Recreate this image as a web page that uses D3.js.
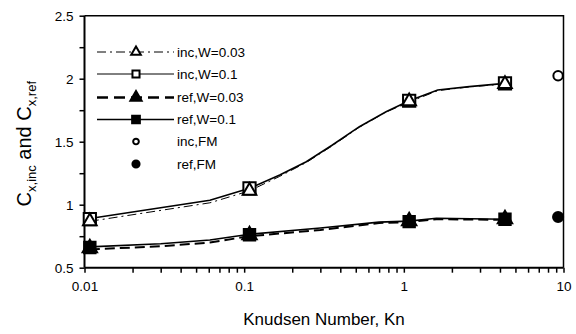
<!DOCTYPE html>
<html>
<head>
<meta charset="utf-8">
<script src="https://cdn.jsdelivr.net/npm/d3@7"></script>
<style>
  body { margin: 0; background: #fff; }
  svg { font-family: "Liberation Sans", Arial, sans-serif; }
</style>
</head>
<body>
<div id="chart"></div>
<script>
// Chart size
var width = 576;
var height = 334;

// Plot area
var plotLeft = 84.5, plotRight = 563.5, plotTop = 15.7, plotBottom = 267.7;

// Curves (Kn, C)
var incW003Kn = [0.0108, 0.061, 0.108, 0.167, 0.245, 0.357, 0.527, 0.774, 1.08, 1.63, 2.57, 4.3];
var incW003C  = [0.868, 1.015, 1.11, 1.225, 1.335, 1.468, 1.615, 1.735, 1.815, 1.905, 1.935, 1.958];
var incW01Kn  = [0.0108, 0.061, 0.108, 0.167, 0.245, 0.357, 0.527, 0.774, 1.08, 1.63, 2.57, 4.3];
var incW01C   = [0.89, 1.035, 1.13, 1.236, 1.341, 1.474, 1.619, 1.738, 1.825, 1.91, 1.937, 1.963];
var refW003Kn = [0.0108, 0.03, 0.061, 0.108, 0.3, 0.7, 1.08, 1.6, 4.3];
var refW003C  = [0.645, 0.67, 0.7, 0.75, 0.8, 0.855, 0.862, 0.885, 0.88];
var refW01Kn  = [0.0108, 0.03, 0.061, 0.108, 0.3, 0.7, 1.08, 1.6, 4.3];
var refW01C   = [0.665, 0.69, 0.72, 0.765, 0.815, 0.862, 0.87, 0.893, 0.885];

// Markers shown on the curves
var markKn = [0.0108, 0.108, 1.08, 4.3];
var incW003Mark = [0.868, 1.11, 1.82, 1.958];
var incW01Mark  = [0.885, 1.13, 1.825, 1.963];
var refW003Mark = [0.655, 0.758, 0.87, 0.885];
var refW01Mark  = [0.66, 0.762, 0.866, 0.885];

// Free molecular limits
var fmKn = 9.25;
var incFM = 2.024;
var refFM = 0.902;

var legendLabels = ["inc,W=0.03", "inc,W=0.1", "ref,W=0.03", "ref,W=0.1", "inc,FM", "ref,FM"];

var xMajor = [0.01, 0.1, 1, 10];
var yMajor = [0.5, 1, 1.5, 2, 2.5];

var svg = d3.select("#chart").append("svg")
  .attr("width", width)
  .attr("height", height);

var x = d3.scaleLog().domain([0.01, 10]).range([plotLeft, plotRight]);
var y = d3.scaleLinear().domain([0.5, 2.5]).range([plotBottom, plotTop]);

// x ticks: 1..9 in each decade
var xTicks = [];
for (var d = 0; d < 3; d++) {
  for (var k = 1; k < 10; k++) xTicks.push(k * Math.pow(10, d - 2));
}
xTicks.push(10);
var yTicks = d3.range(0.5, 2.51, 0.25);

var xAxis = d3.axisBottom(x)
  .tickValues(xTicks)
  .tickSize(5)
  .tickSizeOuter(0)
  .tickFormat(function(v) {
    var m = xMajor.find(function(t) { return Math.abs(t - v) < t * 1e-6; });
    return m === undefined ? "" : String(m);
  });

var gx = svg.append("g")
  .attr("transform", "translate(0," + plotBottom + ")")
  .call(xAxis);
gx.select(".domain").attr("stroke-width", 2).attr("d", "M" + plotLeft + ",0H" + plotRight);
gx.selectAll(".tick line").attr("stroke-width", 1.5);
gx.selectAll(".tick text").attr("font-size", 13.5).attr("dy", "1.15em").attr("fill", "#000");

var yAxis = d3.axisLeft(y)
  .tickValues(yTicks)
  .tickSize(5)
  .tickSizeOuter(0)
  .tickFormat(function(v) {
    return yMajor.indexOf(v) >= 0 ? d3.format("")(v) : "";
  });

var gy = svg.append("g")
  .attr("transform", "translate(" + plotLeft + ",0)")
  .call(yAxis);
gy.select(".domain").attr("stroke-width", 2).attr("d", "M0," + plotTop + "V" + plotBottom);
gy.selectAll(".tick line").attr("stroke-width", 1.5);
gy.selectAll(".tick text").attr("font-size", 13.5).attr("x", -11).attr("fill", "#000");

// frame top and right
svg.append("path")
  .attr("d", "M" + plotLeft + "," + plotTop + "H" + plotRight + "V" + plotBottom)
  .attr("fill", "none")
  .attr("stroke", "#000")
  .attr("stroke-width", 1.5);

// Axis titles
svg.append("text")
  .attr("x", (plotLeft + plotRight) / 2)
  .attr("y", 325)
  .attr("text-anchor", "middle")
  .attr("font-size", 17)
  .text("Knudsen Number, Kn");

var yt = svg.append("text")
  .attr("transform", "translate(31," + ((plotTop + plotBottom) / 2 + 2) + ") rotate(-90)")
  .attr("text-anchor", "middle")
  .attr("font-size", 20);
yt.append("tspan").text("C");
yt.append("tspan").attr("font-size", 13).attr("dy", 5).text("x,inc");
yt.append("tspan").attr("dy", -5).text(" and C");
yt.append("tspan").attr("font-size", 13).attr("dy", 5).text("x,ref");

// Lines
var line = d3.line()
  .x(function(p) { return x(p[0]); })
  .y(function(p) { return y(p[1]); });

function drawLine(kn, c, dash, w) {
  svg.append("path")
    .datum(d3.zip(kn, c))
    .attr("d", line)
    .attr("fill", "none")
    .attr("stroke", "#000")
    .attr("stroke-width", w)
    .attr("stroke-dasharray", dash);
}

drawLine(refW003Kn, refW003C, "10,5", 2);
drawLine(refW01Kn, refW01C, null, 1.6);
drawLine(incW003Kn, incW003C, "9,4,2,4", 1);
drawLine(incW01Kn, incW01C, null, 1.6);

// Marker symbols
function marker(g, type, cx, cy, size, filled) {
  var s;
  if (type === "tri") s = d3.symbol(d3.symbolTriangle, size);
  else if (type === "sq") s = d3.symbol(d3.symbolSquare, size);
  else s = d3.symbol(d3.symbolCircle, size);
  g.append("path")
    .attr("d", s())
    .attr("transform", "translate(" + cx + "," + cy + ")")
    .attr("fill", filled ? "#000" : "#fff")
    .attr("stroke", "#000")
    .attr("stroke-width", 2);
}

function drawMarks(kn, c, type, size, filled) {
  for (var i = 0; i < kn.length; i++) {
    marker(svg, type, x(kn[i]), y(c[i]), size, filled);
  }
}

drawMarks(markKn, refW003Mark, "tri", 90, true);
drawMarks(markKn, refW01Mark, "sq", 130, true);
drawMarks(markKn, incW01Mark, "sq", 150, false);
drawMarks(markKn, incW003Mark, "tri", 80, false);

marker(svg, "circ", x(fmKn), y(incFM), 70, false);
marker(svg, "circ", x(fmKn), y(refFM), 80, true);

// Legend
var legX0 = 97, legX1 = 174, legMark = 136, legText = 177;
var legY = [52, 74, 97.5, 119.5, 141.5, 164];
var legStyle = [
  { dash: "9,4,2,4", w: 1, type: "tri", filled: false, size: 40, line: true },
  { dash: null, w: 1, type: "sq", filled: false, size: 50, line: true },
  { dash: "11,6", w: 2.5, type: "tri", filled: true, size: 55, line: true },
  { dash: null, w: 1.6, type: "sq", filled: true, size: 60, line: true },
  { type: "circ", filled: false, size: 25, line: false },
  { type: "circ", filled: true, size: 40, line: false }
];

var leg = svg.append("g");
for (var i = 0; i < legendLabels.length; i++) {
  var st = legStyle[i];
  if (st.line) {
    leg.append("line")
      .attr("x1", legX0).attr("x2", legX1)
      .attr("y1", legY[i]).attr("y2", legY[i])
      .attr("stroke", "#000")
      .attr("stroke-width", st.w)
      .attr("stroke-dasharray", st.dash);
  }
  marker(leg, st.type, legMark, legY[i], st.size, st.filled);
  leg.append("text")
    .attr("x", legText)
    .attr("y", legY[i])
    .attr("dy", "0.35em")
    .attr("font-size", 13.5)
    .text(legendLabels[i]);
}
</script>
</body>
</html>
